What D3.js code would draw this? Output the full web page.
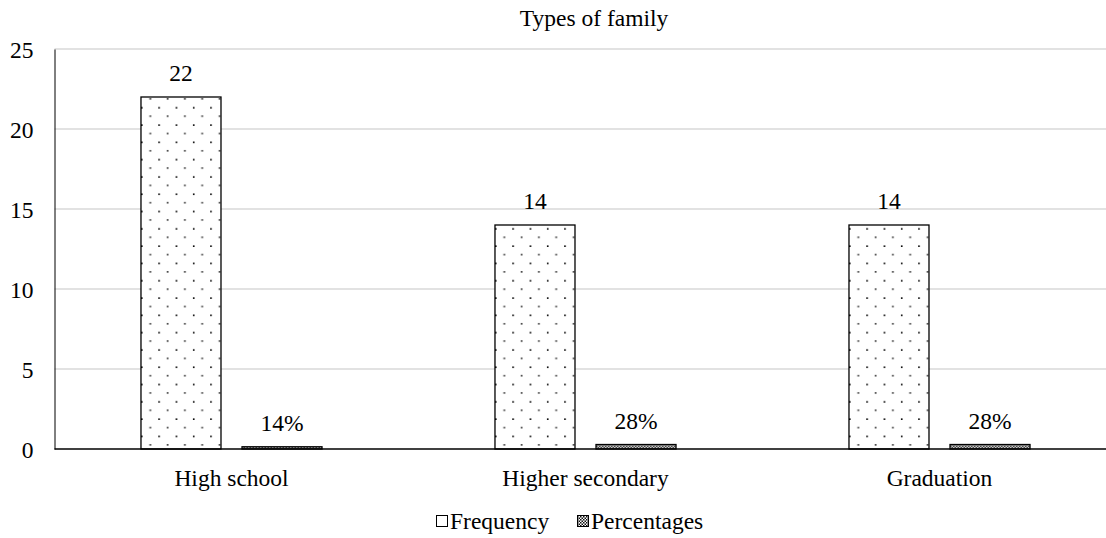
<!DOCTYPE html>
<html>
<head>
<meta charset="utf-8">
<script src="https://cdn.jsdelivr.net/npm/d3@7"></script>
<style>
  html, body { margin: 0; padding: 0; background: #fff; }
  svg text { font-family: "Liberation Serif", "DejaVu Serif", serif; fill: #000; }
</style>
</head>
<body>
<svg id="chart" width="1106" height="538"></svg>
<script>
// Chart data
const title = "Types of family";
const categories = ["High school", "Higher secondary", "Graduation"];
const seriesNames = ["Frequency", "Percentages"];
const frequency = [22, 14, 14];
const percentages = [0.14, 0.28, 0.28];
const yTicks = [0, 5, 10, 15, 20, 25];

const FONT = "Liberation Serif, DejaVu Serif, serif";
const svg = d3.select("#chart");
const plot = { left: 54.5, right: 1116.5, top: 49, bottom: 449 };
const fontSize = 23.5;

// Fill patterns
const defs = svg.append("defs");
const dots = defs.append("pattern")
  .attr("id", "dots").attr("patternUnits", "userSpaceOnUse")
  .attr("width", 17.3).attr("height", 17.3);
dots.append("rect").attr("width", 17.3).attr("height", 17.3).attr("fill", "#fff");
dots.append("rect").attr("x", 0).attr("y", 3.2).attr("width", 1.6).attr("height", 1.6).attr("fill", "#000");
dots.append("rect").attr("x", 8.4).attr("y", 11.8).attr("width", 1.8).attr("height", 1.2).attr("fill", "#000");

const checker = defs.append("pattern")
  .attr("id", "checker").attr("patternUnits", "userSpaceOnUse")
  .attr("width", 3).attr("height", 3);
checker.append("rect").attr("width", 3).attr("height", 3).attr("fill", "#fff");
checker.append("rect").attr("width", 1.5).attr("height", 1.5).attr("fill", "#111");
checker.append("rect").attr("x", 1.5).attr("y", 1.5).attr("width", 1.5).attr("height", 1.5).attr("fill", "#111");

const fills = ["url(#dots)", "url(#checker)"];

// Scales
const x0 = d3.scaleBand().domain(categories).range([plot.left, plot.right]);
const x1 = d3.scaleBand().domain(seriesNames).range([0, x0.bandwidth()])
  .paddingInner(0.208).paddingOuter(0.856);
const y = d3.scaleLinear().domain([0, 25]).range([plot.bottom, plot.top]);

// Gridlines
svg.append("g").selectAll("line").data(yTicks.filter(d => d > 0)).join("line")
  .attr("x1", plot.left).attr("x2", plot.right)
  .attr("y1", d => y(d)).attr("y2", d => y(d))
  .attr("stroke", "#d9d9d9").attr("stroke-width", 1.5);

// Y axis
const yAxis = svg.append("g")
  .attr("transform", `translate(${plot.left},0)`)
  .call(d3.axisLeft(y).tickValues(yTicks).tickSize(0).tickPadding(21));
yAxis.attr("font-family", FONT);
yAxis.select(".domain").attr("stroke", "#000").attr("stroke-width", 1);
yAxis.selectAll("text")
  .attr("font-size", fontSize)
  .attr("font-family", FONT)
  .attr("fill", "#000")
  .attr("dy", "0.35em");

// Bars
const groups = svg.append("g").selectAll("g").data(categories).join("g")
  .attr("transform", d => `translate(${x0(d)},0)`);

const rows = categories.map((c, i) => [
  { key: seriesNames[0], value: frequency[i], label: String(frequency[i]) },
  { key: seriesNames[1], value: percentages[i], label: d3.format(".0%")(percentages[i]) }
]);

groups.each(function(c, i) {
  const g = d3.select(this);
  g.selectAll("rect").data(rows[i]).join("rect")
    .attr("x", d => x1(d.key))
    .attr("y", d => y(d.value))
    .attr("width", x1.bandwidth())
    .attr("height", d => y(0) - y(d.value))
    .attr("fill", (d, j) => fills[j])
    .attr("stroke", "#000").attr("stroke-width", 1.3);
  g.selectAll("text").data(rows[i]).join("text")
    .attr("x", d => x1(d.key) + x1.bandwidth() / 2)
    .attr("y", d => y(d.value) - 16)
    .attr("text-anchor", "middle")
    .attr("font-family", FONT)
    .attr("font-size", fontSize)
    .text(d => d.label);
});

// Baseline
svg.append("line")
  .attr("x1", plot.left).attr("x2", plot.right)
  .attr("y1", y(0)).attr("y2", y(0))
  .attr("stroke", "#000").attr("stroke-width", 1.3);

// Category labels
svg.append("g").selectAll("text").data(categories).join("text")
  .attr("x", d => x0(d) + x0.bandwidth() / 2)
  .attr("y", 486)
  .attr("text-anchor", "middle")
  .attr("font-family", FONT)
  .attr("font-size", fontSize)
  .text(d => d);

// Title
svg.append("text")
  .attr("x", 594).attr("y", 26)
  .attr("text-anchor", "middle")
  .attr("font-family", FONT)
  .attr("font-size", fontSize)
  .text(title);

// Legend
const legendItems = [
  { name: seriesNames[0], fill: "#fff", x: 436 },
  { name: seriesNames[1], fill: "url(#checker)", x: 577 }
];
const lg = svg.append("g").selectAll("g").data(legendItems).join("g")
  .attr("transform", d => `translate(${d.x},0)`);
lg.append("rect")
  .attr("x", 0.5).attr("y", 515.5).attr("width", 11).attr("height", 11)
  .attr("fill", d => d.fill).attr("stroke", "#000").attr("stroke-width", 1);
lg.append("text")
  .attr("x", 14).attr("y", 529)
  .attr("font-family", FONT)
  .attr("font-size", fontSize)
  .text(d => d.name);
</script>
</body>
</html>
